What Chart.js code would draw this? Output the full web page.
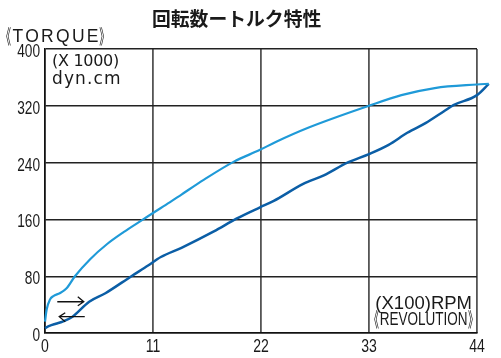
<!DOCTYPE html>
<html>
<head>
<meta charset="utf-8">
<script src="https://cdn.jsdelivr.net/npm/chart.js@4.4.1/dist/chart.umd.min.js"></script>
<style>
  html, body { margin: 0; padding: 0; background: #ffffff; }
  #wrap { width: 501px; height: 358px; }
</style>
</head>
<body>
<div id="wrap"><canvas id="c" width="501" height="358"></canvas></div>
<script>
// ---- data ----
const titleText = '回転数ートルク特性';
const yAxisWord = 'TORQUE';
const xAxisWord = 'REVOLUTION';
const yUnitLines = ['(X 1000)', 'dyn.cm'];
const xUnitLine = '(X100)RPM';

const xTicks = [0, 11, 22, 33, 44];
const yTicks = [0, 80, 160, 240, 320, 400];

// upper curve (light blue)
const upperRpm    = [0, 0.17, 0.5, 0.85, 1.5, 2.2, 3.05, 4.6, 6.3, 8.0, 10.0, 11, 12.7, 13.9, 16.2, 19.2, 21.9, 23.5, 26.8, 33, 36.3, 39.7, 44, 45.2];
const upperTorque = [16, 33, 47, 52, 56, 63, 80, 104, 125, 142, 160, 169, 184, 195, 216, 241, 258, 269, 289, 320, 335, 345, 350, 351];

// lower curve (dark blue)
const lowerRpm    = [0, 0.45, 1.1, 1.8, 2.8, 4.5, 6.15, 8.8, 10.5, 11.8, 13.9, 17.2, 19.5, 21.9, 23.3, 26.3, 28.4, 30.8, 33, 35, 36.9, 38.8, 40.6, 41.6, 44, 45.2];
const lowerTorque = [7, 10, 13, 16, 23, 44, 56, 80, 95, 107, 120, 143, 161, 177, 186, 210, 222, 240, 252, 265, 282, 296, 312, 321, 335, 351];

// direction arrows (in data units): [xStart, xEnd, y]
const arrowRight = [1.25, 3.95, 44];
const arrowLeft  = [1.45, 4.05, 23];

const toPts = (xs, ys) => xs.map((x, i) => ({ x: x, y: ys[i] }));

const sans = "'Liberation Sans', Arial, sans-serif";
const cjk = "'Noto Sans CJK JP', sans-serif";

function drawText(ctx, s, x, y, font, sx, align, spacing) {
  ctx.save();
  ctx.font = font;
  ctx.letterSpacing = (spacing || 0) + 'px';
  ctx.textAlign = align || 'left';
  ctx.translate(x, y);
  ctx.scale(sx, 1);
  ctx.fillText(s, 0, 0);
  ctx.restore();
}
function inkWidth(ctx, s, font, sx, spacing) {
  ctx.save();
  ctx.font = font;
  ctx.letterSpacing = (spacing || 0) + 'px';
  const m = ctx.measureText(s);
  ctx.restore();
  return { left: m.actualBoundingBoxLeft, w: (m.actualBoundingBoxLeft + m.actualBoundingBoxRight) * sx, sx: sx };
}
function drawInk(ctx, s, xInk, y, font, sx, spacing) {
  const iw = inkWidth(ctx, s, font, sx, spacing);
  drawText(ctx, s, xInk + iw.left * sx, y, font, sx, 'left', spacing);
  return xInk + iw.w;
}
function drawBracketed(ctx, word, xStart, y, wordFont, wordSx, spacing, brFont, brSx, gap, brDy) {
  let x = drawInk(ctx, '《', xStart, y + brDy, brFont, brSx, 0);
  x = drawInk(ctx, word, x + gap, y, wordFont, wordSx, spacing);
  x = drawInk(ctx, '》', x + gap, y + brDy, brFont, brSx, 0);
  return x;
}
function bracketedWidth(ctx, word, wordFont, wordSx, spacing, brFont, brSx, gap) {
  return inkWidth(ctx, '《', brFont, brSx).w + gap + inkWidth(ctx, word, wordFont, wordSx, spacing).w + gap + inkWidth(ctx, '》', brFont, brSx).w;
}

const textPlugin = {
  id: 'texts',
  afterDraw(chart) {
    const ctx = chart.ctx;
    const xs = chart.scales.x, ys = chart.scales.y;
    ctx.save();
    ctx.fillStyle = '#1a1a1a';
    ctx.textBaseline = 'alphabetic';

    // tick labels (tall, condensed digits)
    const tickFont = "18.5px " + sans;
    yTicks.forEach(v => {
      drawText(ctx, String(v), 40, ys.getPixelForValue(v) + 8, tickFont, 0.74, 'right');
    });
    xTicks.forEach(v => {
      drawText(ctx, String(v), xs.getPixelForValue(v), 352, tickFont, 0.76, 'center');
    });

    // title
    ctx.textBaseline = 'middle';
    drawText(ctx, titleText, 152, 19, "bold 19px " + cjk, 0.99, 'left');
    ctx.textBaseline = 'alphabetic';

    const brFont = "20px " + cjk;
    // y axis label
    drawBracketed(ctx, yAxisWord, 6, 42, "17.5px " + sans, 1.0, 2.3, brFont, 0.5, 1.5, 1.5);

    // y unit
    drawText(ctx, yUnitLines[0], 52, 66, "16px 'DejaVu Sans', sans-serif", 1.0, 'left', -0.3);
    drawText(ctx, yUnitLines[1], 52, 83.5, "17px 'DejaVu Sans', sans-serif", 1.0, 'left', 1.1);

    // x unit (white background over grid)
    const bw = bracketedWidth(ctx, xAxisWord, "18.5px " + sans, 0.73, 0, brFont, 0.5, 1.5);
    ctx.fillStyle = '#fff';
    ctx.fillRect(473 - bw - 2, 292, bw + 3, 38);
    ctx.fillStyle = '#1a1a1a';
    drawText(ctx, xUnitLine, 472, 308.5, "18.5px " + sans, 1.0, 'right');
    drawBracketed(ctx, xAxisWord, 473 - bw, 325, "18.5px " + sans, 0.73, 0, brFont, 0.5, 1.5, 1.5);

    // arrows
    ctx.strokeStyle = '#111';
    ctx.lineWidth = 1.3;
    const drawArrow = (a, dir) => {
      const x1 = xs.getPixelForValue(a[0]), x2 = xs.getPixelForValue(a[1]);
      const y = ys.getPixelForValue(a[2]);
      ctx.beginPath();
      ctx.moveTo(x1, y); ctx.lineTo(x2, y);
      if (dir > 0) { ctx.moveTo(x2 - 6, y - 5); ctx.lineTo(x2, y); ctx.lineTo(x2 - 6, y + 4); }
      else { ctx.moveTo(x1 + 6, y - 4); ctx.lineTo(x1, y); ctx.lineTo(x1 + 6, y + 5); }
      ctx.stroke();
    };
    drawArrow(arrowRight, 1);
    drawArrow(arrowLeft, -1);
    ctx.restore();
  }
};

new Chart(document.getElementById('c'), {
  type: 'line',
  data: {
    datasets: [
      {
        data: toPts(upperRpm, upperTorque),
        borderColor: '#1f9ad8',
        borderWidth: 2.2,
        pointRadius: 0,
        tension: 0.35,
        cubicInterpolationMode: 'monotone',
        clip: false
      },
      {
        data: toPts(lowerRpm, lowerTorque),
        borderColor: '#0b5ea6',
        borderWidth: 2.5,
        pointRadius: 0,
        tension: 0.35,
        cubicInterpolationMode: 'monotone',
        clip: false
      }
    ]
  },
  options: {
    responsive: false,
    animation: false,
    events: [],
    layout: { padding: { left: 0, top: 49, right: 24, bottom: 0 } },
    plugins: { legend: { display: false }, tooltip: { enabled: false }, title: { display: false } },
    scales: {
      x: {
        type: 'linear',
        bounds: 'data',
        afterDataLimits: (s) => { s.min = xTicks[0]; s.max = xTicks[xTicks.length - 1]; },
        afterBuildTicks: (s) => {
          s.ticks = xTicks.map(v => ({ value: v }));
          s.min = xTicks[0]; s.max = xTicks[xTicks.length - 1];
        },
        afterFit: (s) => { s.height = 25; },
        grid: { color: '#555', lineWidth: 1.8, drawTicks: false },
        border: { display: true, color: '#111', width: 1.5 },
        ticks: { display: false }
      },
      y: {
        type: 'linear',
        min: yTicks[0], max: yTicks[yTicks.length - 1],
        afterBuildTicks: (s) => { s.ticks = yTicks.map(v => ({ value: v })); },
        afterFit: (s) => { s.width = 45; },
        grid: { color: '#222', lineWidth: 1.4, drawTicks: false },
        border: { display: true, color: '#111', width: 1.5 },
        ticks: { display: false }
      }
    }
  },
  plugins: [textPlugin]
});
</script>
</body>
</html>
